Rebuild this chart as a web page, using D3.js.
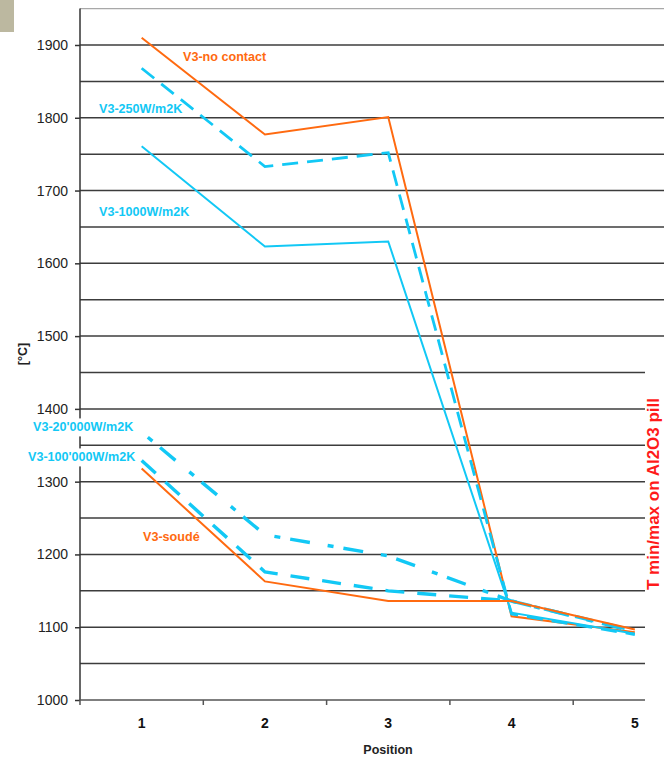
<!DOCTYPE html>
<html>
<head>
<meta charset="utf-8">
<script src="https://cdn.jsdelivr.net/npm/d3@7"></script>
<style>
  html, body { margin: 0; padding: 0; background: #fff; }
  svg { display: block; }
  text { font-family: "Liberation Sans", Arial, sans-serif; }
</style>
</head>
<body>
<svg id="chart" width="664" height="759"></svg>
<script>
// Positions along the pill and temperature curves for each contact condition
const positions = [1, 2, 3, 4, 5];
const noContact   = [1910, 1777, 1801, 1115, 1093];
const w250        = [1868, 1733, 1752, 1118, 1090];
const w1000       = [1761, 1623, 1630, 1120, 1091];
const w20000      = [1368, 1227, 1198, 1136, 1094];
const w100000     = [1329, 1176, 1150, 1136, 1095];
const soude       = [1318, 1163, 1136, 1136, 1097];
const yTicks      = [1000, 1100, 1200, 1300, 1400, 1500, 1600, 1700, 1800, 1900];
const yGrid       = [1050, 1100, 1150, 1200, 1250, 1300, 1350, 1400, 1450, 1500,
                     1550, 1600, 1650, 1700, 1750, 1800, 1850, 1900];

const ORANGE = "#ff6a10";
const CYAN = "#12c8f5";

const series = [
  { name: "V3-no contact",   values: noContact, color: ORANGE, width: 2,   dash: null,          label: { x: 183, y: 57 } },
  { name: "V3-250W/m2K",     values: w250,      color: CYAN,   width: 2.8, dash: "16,9",        label: { x: 99,  y: 109 } },
  { name: "V3-1000W/m2K",    values: w1000,     color: CYAN,   width: 2,   dash: null,          label: { x: 99,  y: 212 } },
  { name: "V3-20'000W/m2K",  values: w20000,    color: CYAN,   width: 3.4, dash: "0,8,6,10,20,10", label: { x: 33,  y: 427, box: true } },
  { name: "V3-100'000W/m2K", values: w100000,   color: CYAN,   width: 3.4, dash: "19,13",       label: { x: 28,  y: 457, box: true } },
  { name: "V3-soudé",        values: soude,     color: ORANGE, width: 2,   dash: null,          label: { x: 143, y: 537 } }
];

const svg = d3.select("#chart");

const x = d3.scaleBand().domain(positions).range([80, 80 + 5 * 123.3]);
const y = d3.scaleLinear().domain([1000, 1950]).range([700, 8.6]);
const cx = d => x(d) + x.bandwidth() / 2;

// small swatch at the top-left corner
svg.append("rect").attr("x", 0).attr("y", 0).attr("width", 14).attr("height", 32)
  .attr("fill", "#bcb8a0");

// plot frame top edge
svg.append("line").attr("x1", 80).attr("x2", 664).attr("y1", y(1950)).attr("y2", y(1950))
  .attr("stroke", "#a8a8a8").attr("stroke-width", 1.2);

// horizontal gridlines every 50 °C
svg.append("g").selectAll("line").data(yGrid).join("line")
  .attr("x1", 80).attr("x2", 664)
  .attr("y1", d => y(d)).attr("y2", d => y(d))
  .attr("stroke", "#3c3c3c").attr("stroke-width", 1.5);

// temperature curves
const line = d3.line().x((d, i) => cx(positions[i])).y(d => y(d));
svg.append("g").selectAll("path").data(series).join("path")
  .attr("d", s => line(s.values))
  .attr("fill", "none")
  .attr("stroke", s => s.color)
  .attr("stroke-width", s => s.width)
  .attr("stroke-dasharray", s => s.dash)
  .attr("stroke-linejoin", "miter");

// right-hand axis title panel
svg.append("rect").attr("x", 645).attr("y", 345).attr("width", 19).attr("height", 370).attr("fill", "#fff");
svg.append("text")
  .attr("transform", "translate(659,494) rotate(-90)")
  .attr("text-anchor", "middle")
  .attr("font-size", 17).attr("font-weight", "bold")
  .attr("fill", "#ff1a1a")
  .text("T min/max on Al2O3 pill");

// y axis
const yAxis = svg.append("g").attr("transform", "translate(80,0)")
  .call(d3.axisLeft(y).tickValues(yTicks).tickSize(5).tickPadding(7).tickFormat(d3.format("d")));
yAxis.select(".domain").attr("d", `M0,${y(1950)}V${y(1000)}`).attr("stroke", "#333").attr("stroke-width", 1.5);
yAxis.selectAll(".tick line").attr("stroke", "#333").attr("stroke-width", 1.5);
yAxis.selectAll(".tick text").attr("font-size", 14).attr("fill", "#222")
  .attr("font-family", "'Liberation Sans', Arial, sans-serif");

// x axis: ticks at category boundaries, labels at centers
const xAxisG = svg.append("g");
xAxisG.append("line").attr("x1", 80).attr("x2", 645).attr("y1", 700).attr("y2", 700)
  .attr("stroke", "#555").attr("stroke-width", 1.5);
const bounds = positions.map(p => x(p));
xAxisG.selectAll("line.tk").data(bounds).join("line").attr("class", "tk")
  .attr("x1", d => d).attr("x2", d => d).attr("y1", 700).attr("y2", 705)
  .attr("stroke", "#555").attr("stroke-width", 1.5);
xAxisG.selectAll("text").data(positions).join("text")
  .attr("x", d => cx(d)).attr("y", 728)
  .attr("text-anchor", "middle")
  .attr("font-size", 14).attr("font-weight", "bold").attr("fill", "#111")
  .text(d => d);

// axis titles
svg.append("text").attr("x", 388).attr("y", 754).attr("text-anchor", "middle")
  .attr("font-size", 12.5).attr("font-weight", "bold").attr("fill", "#222").text("Position");
svg.append("text").attr("transform", "translate(27,354) rotate(-90)").attr("text-anchor", "middle")
  .attr("font-size", 12.5).attr("font-weight", "bold").attr("fill", "#222").text("[°C]");

// series labels
const lab = svg.append("g");
series.forEach(s => {
  const t = lab.append("text")
    .attr("x", s.label.x).attr("y", s.label.y)
    .attr("dy", "0.35em")
    .attr("font-size", 12.6).attr("font-weight", "bold")
    .attr("fill", s.color)
    .text(s.name);
  if (s.label.box) {
    const b = t.node().getBBox();
    lab.insert("rect", () => t.node())
      .attr("x", b.x - 2).attr("y", b.y - 2).attr("width", b.width + 4).attr("height", b.height + 4)
      .attr("fill", "#fff");
  }
});
</script>
</body>
</html>
